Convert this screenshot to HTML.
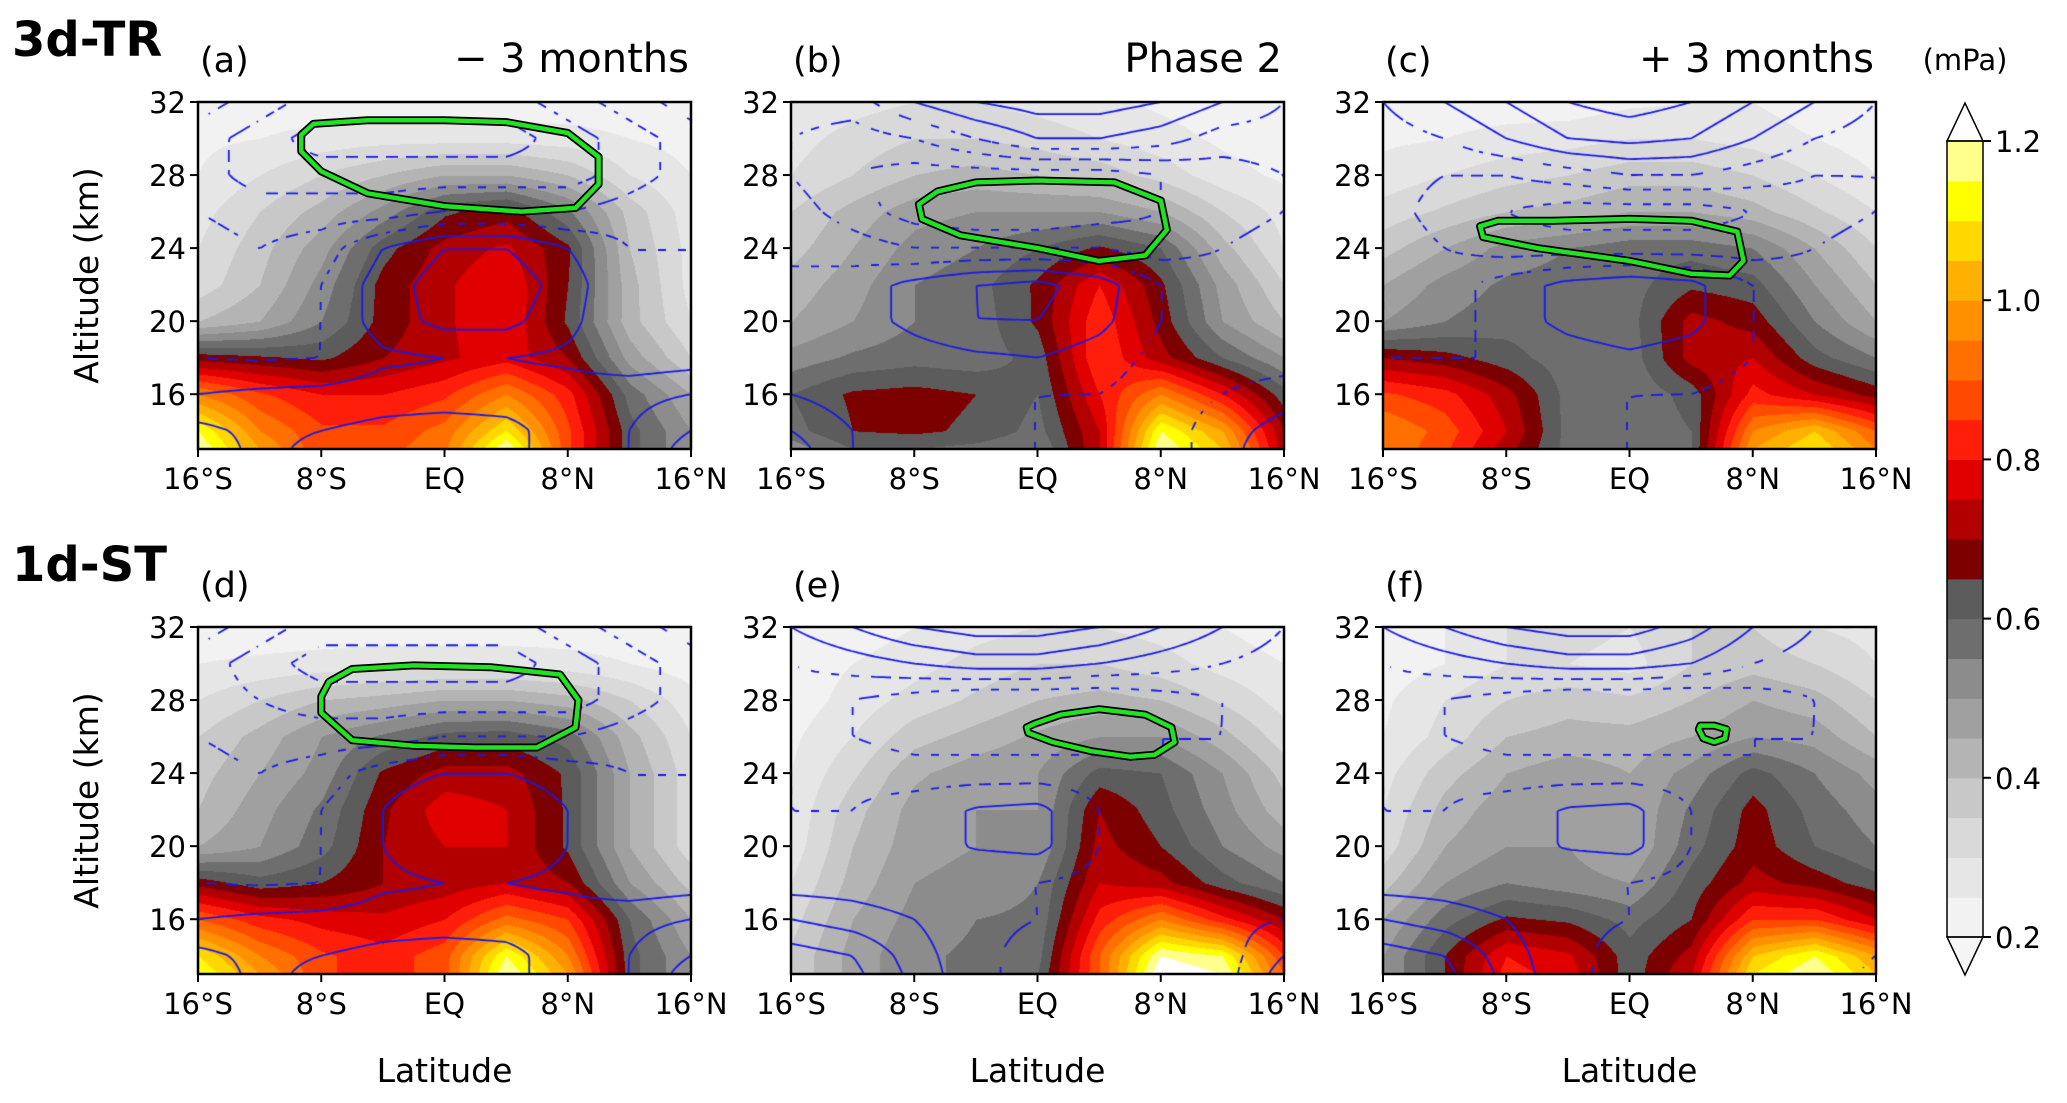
<!DOCTYPE html>
<html><head><meta charset="utf-8">
<style>
html,body{margin:0;padding:0;background:#fff;}
#figure{position:relative;width:2067px;height:1103px;overflow:hidden;font-family:"DejaVu Sans","Liberation Sans",sans-serif;}
canvas{position:absolute;}
#overlay{position:absolute;left:0;top:0;}
</style></head>
<body>
<div id="figure">
<svg id="overlay" width="2067" height="1103" font-family="DejaVu Sans, Liberation Sans, sans-serif"></svg>
</div>
<script>
// ---- data ----
var lats = [-16,-12,-8,-4,0,4,8,12,16];
var alts = [32,30,28,26,24,22,20,18,16,14,13];
var levels = [0.2,0.25,0.3,0.35,0.4,0.45,0.5,0.55,0.6,0.65,0.7,0.75,0.8,0.85,0.9,0.95,1.0,1.05,1.1,1.15,1.2];
var cbTicks = [0.2,0.4,0.6,0.8,1.0,1.2];
var xTickLats = [-16,-8,0,8,16];
var xTickLabels = ["16°S","8°S","EQ","8°N","16°N"];
var yTickAlts = [32,28,24,20,16];
var panelLetters = ["(a)","(b)","(c)","(d)","(e)","(f)"];
var panelTitles = ["− 3 months","Phase 2","+ 3 months","","",""];

var fieldA = [
[.22,.22,.22,.22,.22,.22,.22,.22,.22],
[.24,.25,.27,.28,.28,.28,.27,.25,.23],
[.25,.3,.35,.4,.45,.45,.4,.3,.25],
[.28,.35,.42,.52,.64,.68,.56,.38,.27],
[.3,.38,.48,.63,.72,.76,.66,.4,.28],
[.32,.4,.52,.67,.74,.8,.65,.42,.28],
[.4,.45,.55,.67,.74,.8,.64,.42,.3],
[.68,.66,.64,.7,.74,.78,.7,.48,.35],
[.95,.86,.8,.8,.84,.95,.82,.58,.45],
[1.15,.95,.86,.86,.92,1.1,.86,.62,.5],
[1.2,1.0,.86,.88,.94,1.2,.86,.62,.5]];
var fieldB = [
[.25,.28,.3,.3,.28,.26,.24,.22,.22],
[.28,.32,.35,.35,.33,.3,.27,.24,.22],
[.3,.35,.4,.42,.4,.38,.33,.27,.24],
[.35,.42,.48,.5,.5,.5,.45,.35,.28],
[.38,.45,.52,.55,.6,.66,.6,.42,.3],
[.42,.48,.55,.58,.66,.8,.66,.48,.35],
[.45,.5,.55,.57,.66,.84,.68,.5,.4],
[.52,.56,.58,.57,.62,.85,.72,.6,.5],
[.6,.66,.67,.65,.6,.8,.95,.8,.62],
[.58,.65,.66,.64,.58,.75,1.15,1.0,.7],
[.52,.6,.6,.58,.55,.75,1.2,1.05,.72]];
var fieldC = [
[.22,.22,.22,.22,.24,.25,.25,.22,.2],
[.24,.25,.27,.28,.3,.3,.28,.25,.22],
[.27,.3,.33,.35,.38,.38,.35,.3,.25],
[.32,.36,.4,.42,.45,.45,.42,.36,.3],
[.38,.45,.52,.55,.58,.58,.55,.45,.35],
[.45,.52,.56,.57,.58,.64,.62,.5,.4],
[.5,.55,.58,.57,.58,.72,.68,.55,.45],
[.7,.67,.62,.57,.57,.72,.75,.62,.55],
[.86,.82,.72,.58,.56,.62,.82,.75,.68],
[.95,.88,.75,.58,.56,.6,.95,1.05,.9],
[.95,.86,.72,.58,.56,.6,1.0,1.1,.95]];
var fieldD = [
[.22,.22,.22,.22,.22,.22,.22,.22,.2],
[.25,.26,.27,.28,.28,.28,.27,.25,.22],
[.3,.35,.4,.42,.45,.45,.42,.35,.27],
[.35,.42,.5,.56,.62,.63,.58,.42,.3],
[.38,.45,.52,.66,.72,.72,.64,.45,.32],
[.4,.48,.56,.69,.78,.75,.64,.45,.32],
[.45,.5,.58,.7,.75,.75,.64,.45,.32],
[.68,.62,.65,.7,.72,.75,.7,.5,.38],
[.9,.82,.78,.76,.8,.92,.85,.6,.45],
[1.1,.95,.86,.82,.88,1.15,.95,.62,.5],
[1.15,1.0,.86,.82,.88,1.2,1.0,.62,.5]];
var fieldE = [
[.2,.22,.25,.28,.3,.3,.28,.25,.22],
[.22,.25,.28,.32,.35,.35,.32,.28,.25],
[.22,.27,.32,.36,.4,.42,.4,.34,.28],
[.24,.3,.38,.42,.46,.5,.5,.42,.32],
[.25,.34,.44,.48,.5,.62,.6,.5,.38],
[.26,.38,.47,.5,.5,.7,.62,.52,.42],
[.27,.4,.48,.5,.5,.72,.65,.55,.48],
[.3,.42,.5,.52,.55,.75,.72,.62,.55],
[.33,.45,.52,.55,.56,.82,.95,.82,.7],
[.36,.47,.54,.56,.58,.9,1.2,1.15,.85],
[.36,.47,.54,.56,.6,.9,1.25,1.2,.9]];
var fieldF = [
[.22,.25,.3,.32,.3,.35,.35,.3,.28],
[.22,.25,.3,.3,.28,.35,.38,.35,.3],
[.24,.3,.35,.38,.36,.4,.45,.42,.35],
[.25,.32,.4,.42,.42,.45,.5,.48,.4],
[.28,.38,.45,.48,.45,.52,.62,.55,.48],
[.3,.42,.48,.5,.45,.56,.67,.58,.52],
[.32,.45,.5,.5,.45,.58,.68,.6,.55],
[.38,.5,.55,.52,.5,.62,.72,.68,.62],
[.45,.58,.66,.64,.58,.65,.85,.85,.75],
[.5,.65,.8,.76,.62,.72,1.05,1.15,1.0],
[.5,.65,.82,.78,.62,.75,1.1,1.2,1.05]];

var windA = [
[-1,-2,-3,-3,-3,-3,-2,-1,0],
[-2,-3,-4,-4,-4,-4,-3,-2,-1],
[-2,-3,-3,-3,-3,-3,-3,-2,-1],
[-1.5,-2,-2,-2,-1.5,-1.5,-1.5,-1,-.5],
[-1,-1.5,-1,.5,1.5,1.5,.5,-.5,-.5],
[-1,-1.5,-.5,1,2,2.2,1,-.5,-.5],
[-.5,-1,-.5,1,1.8,1.8,.8,-.5,-.5],
[-.5,-.6,-.5,.3,.5,.5,.3,-.2,0],
[.5,.7,.8,1,1,1,1,1.2,1.5],
[1.8,1.2,1.5,1.8,2,1.8,1,1.5,2.5],
[2.2,1.2,1.8,2,2.2,1.8,1,1.5,3]];
var windB = [
[-1,-1,.5,1.5,2,2,1.5,.5,-.5],
[-1.5,-2,-1.5,-.5,.5,.5,0,-1,-1],
[-1.5,-2.5,-3,-3,-3,-3,-2.5,-2,-1.5],
[-1,-2,-3,-3.5,-3.5,-3,-2.5,-2,-1.5],
[-.5,-1,-1.5,-1.5,-1.5,-1.5,-2,-1.5,-1],
[-.5,0,.8,1.5,1.8,1,-.5,-1,-1],
[-.5,0,.8,1.5,1.5,.8,-.5,-1,-1],
[-.5,-.5,0,.3,.5,0,-.8,-1,-1],
[.5,0,-.5,-.5,-.5,-.5,-1,-.5,0],
[1.5,.5,-.5,-.5,-.5,-.8,-1,0,1],
[2,.5,-.5,-.5,-.5,-.8,-1,0,1.5]];
var windC = [
[-.5,.5,1.5,2.5,3,2.5,1.5,.5,-.5],
[-1,-.5,.5,1.5,1.8,1.5,.5,-.5,-1],
[-1,-1.5,-1.5,-1,-.5,-.5,-1,-1.5,-1.5],
[-1,-2,-2.5,-3,-3,-3,-2.5,-2,-1.5],
[-.8,-1.5,-2,-2,-2,-2,-2,-1.5,-1],
[-.5,-1,0,.8,1.2,.8,-.5,-1,-1],
[-.5,-1,0,.8,1.2,.8,-.5,-1,-1],
[-.5,-.5,-.5,0,.3,0,-.5,-1,-1],
[-.3,-.5,-.5,-.5,-.5,-.5,-.8,-.8,-.5],
[-.3,-.5,-.5,-.5,-.5,-.8,-1,-1,-1],
[-.3,-.5,-.5,-.5,-.5,-.8,-1,-1,-1]];
var windD = [
[-1,-2,-3,-3,-3,-3,-2,-1,0],
[-2,-3,-4,-4,-4,-4,-3,-2,-1],
[-2,-2.5,-3,-3,-3,-3,-3,-2,-1],
[-1.5,-2,-2,-2,-1.5,-1.5,-1.5,-1,-.5],
[-1,-1.5,-1,0,.5,.5,0,-.5,-.5],
[-1,-1.5,-.5,.5,1.5,1.5,.5,-.5,-.5],
[-.5,-1,-.5,.5,1.2,1.2,.5,-.5,-.5],
[-.5,-.6,-.5,.3,.5,.5,.3,-.2,0],
[.5,.7,.8,1,1,1,1,1.2,1.5],
[1.8,1.2,1.5,1.8,2,1.8,1,1.5,2.5],
[2.2,1.2,1.8,2,2.2,1.8,1,1.5,3]];
var windE = [
[.5,1.5,2.5,3,3,2.5,1.5,.5,-.5],
[-.5,0,.5,1,1,.5,0,-.5,-1],
[-1,-1.5,-2,-2.5,-2.5,-2.5,-2,-1.5,-1],
[-1,-1.5,-2,-2,-2,-2,-1.5,-1.5,-1],
[-.5,-.8,-1,-1,-1,-1,-1.5,-1.5,-1],
[-.5,-.5,0,.6,.8,-.5,-1,-.8,-.5],
[-.5,-.5,0,.6,.8,-.5,-1.2,-.8,-.5],
[0,0,-.2,-.5,-.5,-.8,-1.2,-.8,-.5],
[1.5,1,.5,-.3,-.5,-.8,-1,-.8,-.5],
[3,2.5,1,-.3,-.8,-1,-1,-1,.5],
[3.5,2.8,1.2,-.3,-.8,-1,-1,-1,1]];
var windF = [
[.5,1.5,2.5,3,3,2,.5,-.5,-.5],
[-.5,0,.5,1,1,.5,-.5,-1,-1],
[-1,-1.5,-2,-2.5,-2.5,-2.5,-2,-1.5,-1],
[-1,-1.5,-2,-2,-2,-2,-1.5,-1.5,-1],
[-.5,-.8,-1,-1,-1,-1,-1.5,-1.5,-1.5],
[-.5,-.5,0,.6,.8,-.5,-1,-1,-1],
[-.5,-.5,0,.6,.8,-.5,-1.2,-1,-1],
[0,0,-.2,-.5,-.5,-.8,-1.2,-1,-.8],
[1.5,1,.5,-.3,-.5,-.8,-1,-.8,-.5],
[3,2.5,1,-.3,-.8,-1,-1,-1,-.5],
[3.5,2.8,1.2,-.3,-.8,-1,-1,-1,-.3]];

var greenLatA = [-9.3,-9.3,-8,-5,0,5,8.5,10,10,8,4,0,-5,-8.5];
var greenAltA = [30.2,29.3,28.2,27,26.3,26,26.2,27.5,29,30.3,30.9,31,31,30.8];
var greenLatB = [-7.7,-7.5,-5,0,4,7,8.4,8,5,0,-4,-6.5];
var greenAltB = [26.4,25.6,24.7,24,23.3,23.6,25,26.6,27.6,27.7,27.6,27.1];
var greenLatC = [-9.7,-9.5,-6,0,4,6.5,7.4,7,4,0,-5,-8.5];
var greenAltC = [25.2,24.6,24,23.3,22.6,22.5,23.3,24.9,25.5,25.6,25.5,25.5];
var greenLatD = [-8,-8,-6,-2,2,6,8.5,8.7,7.5,3,-2,-6,-7.5];
var greenAltD = [28.2,27.3,25.8,25.5,25.4,25.4,26.5,28,29.4,29.8,29.9,29.7,29];
var greenLatE = [-0.7,-0.6,1,3.5,6,7.6,8.9,8.7,7,4,1.5,-0.2];
var greenAltE = [26.5,26.2,25.7,25.2,24.9,25.0,25.7,26.5,27.2,27.5,27.2,26.7];
var greenLatF = [4.5,4.8,5.5,6.2,6.3,5.5,4.6];
var greenAltF = [26.4,25.9,25.7,25.9,26.4,26.6,26.6];

var fields = [fieldA,fieldB,fieldC,fieldD,fieldE,fieldF];
var winds = [windA,windB,windC,windD,windE,windF];
var greenLats = [greenLatA,greenLatB,greenLatC,greenLatD,greenLatE,greenLatF];
var greenAlts = [greenAltA,greenAltB,greenAltC,greenAltD,greenAltE,greenAltF];
var windLevels = [-3.5,-2.5,-1.5,-0.5,0.5,1.5,2.5];

// ---- styling / layout ----
var colors = ["#f2f2f2","#e6e6e6","#d9d9d9","#c8c8c8","#b4b4b4","#a0a0a0","#8c8c8c","#6e6e6e",
 "#5c5c5c","#7d0000","#b20000","#e00000","#ff1e0a","#ff4a00","#ff7000","#ff9000","#ffb000","#ffd800","#ffff00","#ffff8c","#ffffd8"];
var belowColor = "#f5f5f5", aboveColor = "#ffffff";
var panelX = [198,791,1383], panelY = [102,627], PW = 493, PH = 347;
var ALT_MIN = 13, ALT_MAX = 32;
var SVGNS = "http://www.w3.org/2000/svg";
var overlayEl = document.getElementById('overlay');
var figureEl = document.getElementById('figure');

function mk(tag, attrs, parent){var e=document.createElementNS(SVGNS,tag);for(var k in attrs)e.setAttribute(k,attrs[k]);(parent||overlayEl).appendChild(e);return e;}
function colorFor(v){ if(v<levels[0])return belowColor; if(v>=levels[levels.length-1])return aboveColor;
  for(var i=0;i<levels.length-1;i++){ if(v<levels[i+1])return colors[i]; } return aboveColor; }
function hexRgb(c){return [parseInt(c.substr(1,2),16),parseInt(c.substr(3,2),16),parseInt(c.substr(5,2),16)];}
function sample(g, lat, alt){
  var fx=(lat-lats[0])/(lats[1]-lats[0]); fx=Math.max(0,Math.min(lats.length-1.0001,fx));
  var i=Math.floor(fx), tx=fx-i;
  var j=0; while(j<alts.length-2 && alt<alts[j+1]) j++;
  var ty=(alts[j]-alt)/(alts[j]-alts[j+1]); ty=Math.max(0,Math.min(1,ty));
  var a=g[j][i],b=g[j][i+1],c=g[j+1][i],d=g[j+1][i+1];
  return (a*(1-tx)+b*tx)*(1-ty)+(c*(1-tx)+d*tx)*ty;
}

function drawField(p){
  var field=fields[p];
  var col=p%3,row=Math.floor(p/3);
  var x0=panelX[col],y0=panelY[row];
  var cv=document.createElement('canvas');
  cv.width=PW;cv.height=PH;cv.style.left=x0+'px';cv.style.top=y0+'px';
  
  
  figureEl.insertBefore(cv,overlayEl);
  var ctx=cv.getContext('2d');
  var img=ctx.createImageData(PW,PH);
  var cache={};
  for(var y=0;y<PH;y++){var alt=ALT_MAX-y/PH*(ALT_MAX-ALT_MIN);
    for(var x=0;x<PW;x++){var lat=-16+x/PW*32;
      var cc=colorFor(sample(field,lat,alt)); var rgb=cache[cc]||(cache[cc]=hexRgb(cc));
      var q=(y*PW+x)*4; img.data[q]=rgb[0];img.data[q+1]=rgb[1];img.data[q+2]=rgb[2];img.data[q+3]=255;}}
  ctx.putImageData(img,0,0);
  var wind=winds[p], S=4, nx=Math.ceil(PW/S)+1, ny=Math.ceil(PH/S)+1;
  var gv=[];
  for(var j=0;j<ny;j++){gv.push([]);for(var i=0;i<nx;i++){gv[j].push(sample(wind,-16+(i*S)/PW*32,ALT_MAX-(j*S)/PH*(ALT_MAX-ALT_MIN)));}}
  ctx.strokeStyle="#1a1ae6";ctx.lineWidth=1.8;
  for(var li=0;li<windLevels.length;li++){
    var L=windLevels[li];
    ctx.beginPath();
    for(var jj=0;jj<ny-1;jj++)for(var ii=0;ii<nx-1;ii++){
      var v=[gv[jj][ii],gv[jj][ii+1],gv[jj+1][ii+1],gv[jj+1][ii]];
      var pts=[[ii,jj],[ii+1,jj],[ii+1,jj+1],[ii,jj+1]];
      var cr=[];
      for(var e=0;e<4;e++){var va=v[e],vb=v[(e+1)%4];
        if((va<L)!==(vb<L)){var t=(L-va)/(vb-va);var pa=pts[e],pb=pts[(e+1)%4];
          cr.push([(pa[0]+(pb[0]-pa[0])*t)*S,(pa[1]+(pb[1]-pa[1])*t)*S]);}}
      for(var k=0;k+1<cr.length;k+=2){
        var mx=(cr[k][0]+cr[k+1][0])/2,my=(cr[k][1]+cr[k+1][1])/2;
        if(L<0 && (Math.floor(mx/10)+Math.floor(my/10))%2===1) continue;
        ctx.moveTo(cr[k][0],cr[k][1]);ctx.lineTo(cr[k+1][0],cr[k+1][1]);}
    }
    ctx.stroke();
  }
}

function drawAxes(p){
  var col=p%3,row=Math.floor(p/3);
  var x0=panelX[col],y0=panelY[row];
  var xs=function(lat){return (lat+16)/32*PW;}, ys=function(alt){return (ALT_MAX-alt)/(ALT_MAX-ALT_MIN)*PH;};
  var gl=greenLats[p],ga=greenAlts[p];
  var d='';for(var k=0;k<gl.length;k++){d+=(k?'L':'M')+(x0+xs(gl[k])).toFixed(1)+','+(y0+ys(ga[k])).toFixed(1);}d+='Z';
  var g1=mk('path',{d:d,fill:'none',stroke:'#000',"stroke-width":8,"stroke-linejoin":"round"});
  
  
  var g2=mk('path',{d:d,fill:'none',stroke:'#22e022',"stroke-width":4.5,"stroke-linejoin":"round"});
  
  
  var fr=mk('rect',{x:x0,y:y0,width:PW,height:PH,fill:'none',stroke:'#000',"stroke-width":2.5});
  
  
  xTickLats.forEach(function(la,k){var x=x0+xs(la);
    var t=mk('line',{x1:x,x2:x,y1:y0+PH,y2:y0+PH+8,stroke:'#000',"stroke-width":2});
    
    
    var tx=mk('text',{x:x,y:y0+PH+40,"text-anchor":"middle","font-size":29});tx.textContent=xTickLabels[k];
    
    });
  yTickAlts.forEach(function(al){var y=y0+ys(al);
    var t=mk('line',{x1:x0-8,x2:x0,y1:y,y2:y,stroke:'#000',"stroke-width":2});
    
    
    var tx=mk('text',{x:x0-12,y:y+11,"text-anchor":"end","font-size":29});tx.textContent=String(al);
    
    });
  var lt=mk('text',{x:x0+2,y:y0-30,"font-size":35});lt.textContent=panelLetters[p];
  
  
  if(panelTitles[p]){var tt=mk('text',{x:x0+PW-2,y:y0-30,"text-anchor":"end","font-size":40});tt.textContent=panelTitles[p];
    
    }
  if(col===0){var yl=mk('text',{x:0,y:0,"text-anchor":"middle","font-size":33,transform:'translate('+(x0-100)+','+(y0+PH/2)+') rotate(-90)'});
    yl.textContent="Altitude  (km)";
    
    }
  if(row===1){var xl=mk('text',{x:x0+PW/2,y:1082,"text-anchor":"middle","font-size":33});xl.textContent="Latitude";
    
    }
}

for(var pp=0;pp<6;pp++){
  try{drawField(pp);}catch(err){}
  try{drawAxes(pp);}catch(err){}
}

try{
var r1=mk('text',{x:12,y:56,"font-size":48,"font-weight":"bold"});r1.textContent="3d-TR";


var r2=mk('text',{x:12,y:581,"font-size":48,"font-weight":"bold"});r2.textContent="1d-ST";


var CBX=1947,CBW=36;
var cbY=function(v){return 937-(v-0.2)/1.0*796;};
for(var i=0;i<levels.length-1;i++){
  var r=mk('rect',{x:CBX,y:cbY(levels[i+1]),width:CBW,height:cbY(levels[i])-cbY(levels[i+1])+0.6,fill:colors[i]});
  
  
}
var tU=mk('polygon',{points:CBX+','+cbY(1.2)+' '+(CBX+CBW)+','+cbY(1.2)+' '+(CBX+CBW/2)+',103',fill:aboveColor,stroke:'#000',"stroke-width":1.5});


var tD=mk('polygon',{points:CBX+','+cbY(0.2)+' '+(CBX+CBW)+','+cbY(0.2)+' '+(CBX+CBW/2)+',975',fill:belowColor,stroke:'#000',"stroke-width":1.5});


var cbf=mk('rect',{x:CBX,y:cbY(1.2),width:CBW,height:cbY(0.2)-cbY(1.2),fill:'none',stroke:'#000',"stroke-width":1.5});


cbTicks.forEach(function(v){var y=cbY(v);
  var t=mk('line',{x1:CBX+CBW,x2:CBX+CBW+8,y1:y,y2:y,stroke:'#000',"stroke-width":2});
  
  
  var tx=mk('text',{x:CBX+CBW+12,y:y+11,"font-size":29});tx.textContent=v.toFixed(1);
  
  });
var cu=mk('text',{x:1965,y:70,"text-anchor":"middle","font-size":29});cu.textContent="(mPa)";


}catch(err){}
</script>
</body></html>
